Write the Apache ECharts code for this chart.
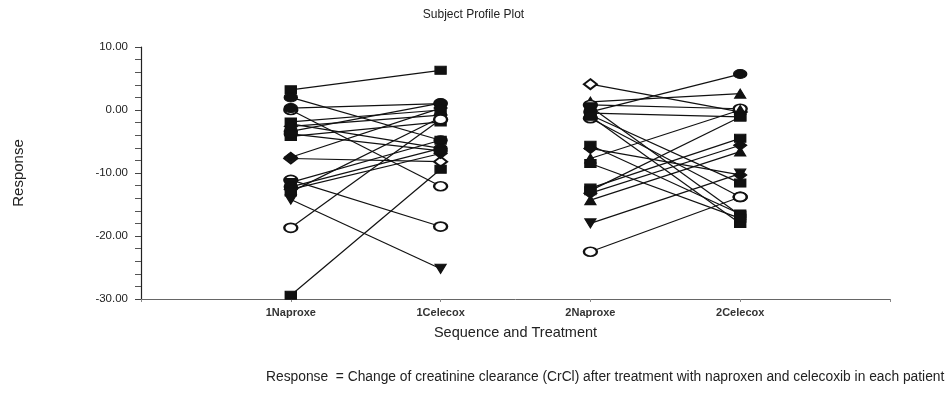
<!DOCTYPE html>
<html>
<head>
<meta charset="utf-8">
<script src="https://cdn.jsdelivr.net/npm/echarts@6/dist/echarts.min.js"></script>
<style>
    html, body { margin: 0; padding: 0; background: #fff; }
    #chart { width: 947px; height: 399px; }
</style>
</head>
<body>
<div id="chart"></div>
<script>
// x positions 1..4 on the axis, labels for them
const treatments = ['1Naproxe', '1Celecox', '2Naproxe', '2Celecox'];
const yTicks = [-30, -20, -10, 0, 10];

// sequence 1: naproxen first, then celecoxib
const seq1Naproxen = [3.2, 2.0, 0.0, 0.3, -1.9, -2.6, -3.4, -4.2, -2.2, -7.7, -7.5, -11.1, -11.5, -12.2, -12.6, -13.0, -14.2, -18.7, -29.4, -3.8];
const seq1Celecoxib = [6.3, -4.8, -12.1, 1.0, 0.0, -0.8, 1.1, -1.9, -6.1, -8.2, 0.3, -18.5, -4.8, -6.1, -6.9, -1.2, -25.2, -1.5, -9.4, -6.5];
const seq1Markers = ['rect', 'circle', 'emptyCircle', 'circle', 'rect', 'diamond', 'circle', 'rect', 'triangle', 'emptyDiamond',
    'diamond', 'emptyCircle', 'rect', 'circle', 'diamond', 'rect', 'down', 'emptyCircle', 'rect', 'circle'];

// sequence 2
const seq2Naproxen = [4.1, 1.3, 0.8, 0.5, -0.3, -0.5, -1.3, -0.8, -1.0, -5.6, -6.1, -7.7, -8.5, -12.4, -13.2, -14.3, -18.0, -22.5, -12.8];
const seq2Celecoxib = [-0.3, 2.6, 0.2, -16.7, 5.7, -1.1, -13.8, -11.6, -18.0, -16.5, -10.3, 0.0, -17.2, -4.5, -5.6, -6.6, -10.1, -13.8, -1.1];
const seq2Markers = ['emptyDiamond', 'triangle', 'emptyCircle', 'rect', 'circle', 'rect', 'emptyCircle', 'rect', 'rect', 'rect',
    'diamond', 'triangle', 'rect', 'rect', 'diamond', 'triangle', 'down', 'emptyCircle', 'rect'];

const DOWN = 'path://M0,0L10,0L5,8Z';

function markerSize(m) {
    if (m === 'circle' || m === 'emptyCircle') return [13, 9];
    if (m === 'rect') return [11, 8];
    if (m === 'diamond' || m === 'emptyDiamond') return [13, 10];
    return [11, 9];
}

function buildSeries(xa, xb, before, after, markers) {
    return before.map((v, i) => ({
        type: 'line',
        data: [[xa, v], [xb, after[i]]],
        symbol: markers[i] === 'down' ? DOWN : markers[i],
        symbolSize: markerSize(markers[i]),
        showAllSymbol: true,
        lineStyle: { color: '#111', width: 1.2 },
        itemStyle: { color: '#111', borderColor: '#111', borderWidth: 1.2 },
        emphasis: { disabled: true },
        animation: false,
        z: 3
    }));
}

const series = []
    .concat(buildSeries(1, 2, seq1Naproxen, seq1Celecoxib, seq1Markers))
    .concat(buildSeries(3, 4, seq2Naproxen, seq2Celecoxib, seq2Markers));

const chart = echarts.init(document.getElementById('chart'), null, { renderer: 'canvas' });

chart.setOption({
    backgroundColor: '#fff',
    textStyle: { fontFamily: 'Liberation Sans, Arial, sans-serif' },
    title: {
        text: 'Subject Profile Plot',
        left: 'center',
        top: 4,
        textStyle: { fontSize: 12, fontWeight: 'normal', color: '#222' }
    },
    grid: { left: 141, right: 57, top: 47, bottom: 100 },
    xAxis: {
        type: 'value',
        min: 0,
        max: 5,
        interval: 1,
        name: 'Sequence and Treatment',
        nameLocation: 'middle',
        nameGap: 26,
        nameTextStyle: { fontSize: 14.5, color: '#222' },
        axisLine: { onZero: false, lineStyle: { color: '#666', width: 1 } },
        axisTick: { show: true, length: 3, lineStyle: { color: '#888' } },
        axisLabel: {
            fontSize: 11,
            fontWeight: 'bold',
            color: '#333',
            margin: 8,
            formatter: v => treatments[v - 1] || ''
        },
        splitLine: { show: false }
    },
    yAxis: {
        type: 'value',
        min: yTicks[0],
        max: yTicks[yTicks.length - 1],
        interval: 10,
        name: 'Response',
        nameLocation: 'middle',
        nameGap: 115,
        nameRotate: 90,
        nameTextStyle: { fontSize: 15, color: '#222' },
        axisLine: { show: true, onZero: false, lineStyle: { color: '#222', width: 1.2 } },
        axisTick: { show: true, length: 6, lineStyle: { color: '#444' } },
        minorTick: { show: true, splitNumber: 5, length: 6, lineStyle: { color: '#555' } },
        axisLabel: {
            fontSize: 11.5,
            color: '#222',
            margin: 13,
            formatter: v => v.toFixed(2)
        },
        splitLine: { show: false }
    },
    graphic: [{
        type: 'text',
        left: 266,
        top: 370,
        style: {
            text: 'Response  = Change of creatinine clearance (CrCl) after treatment with naproxen and celecoxib in each patient',
            font: '13.8px "Liberation Sans", Arial, sans-serif',
            fill: '#222'
        }
    }],
    series: series
});
</script>
</body>
</html>
